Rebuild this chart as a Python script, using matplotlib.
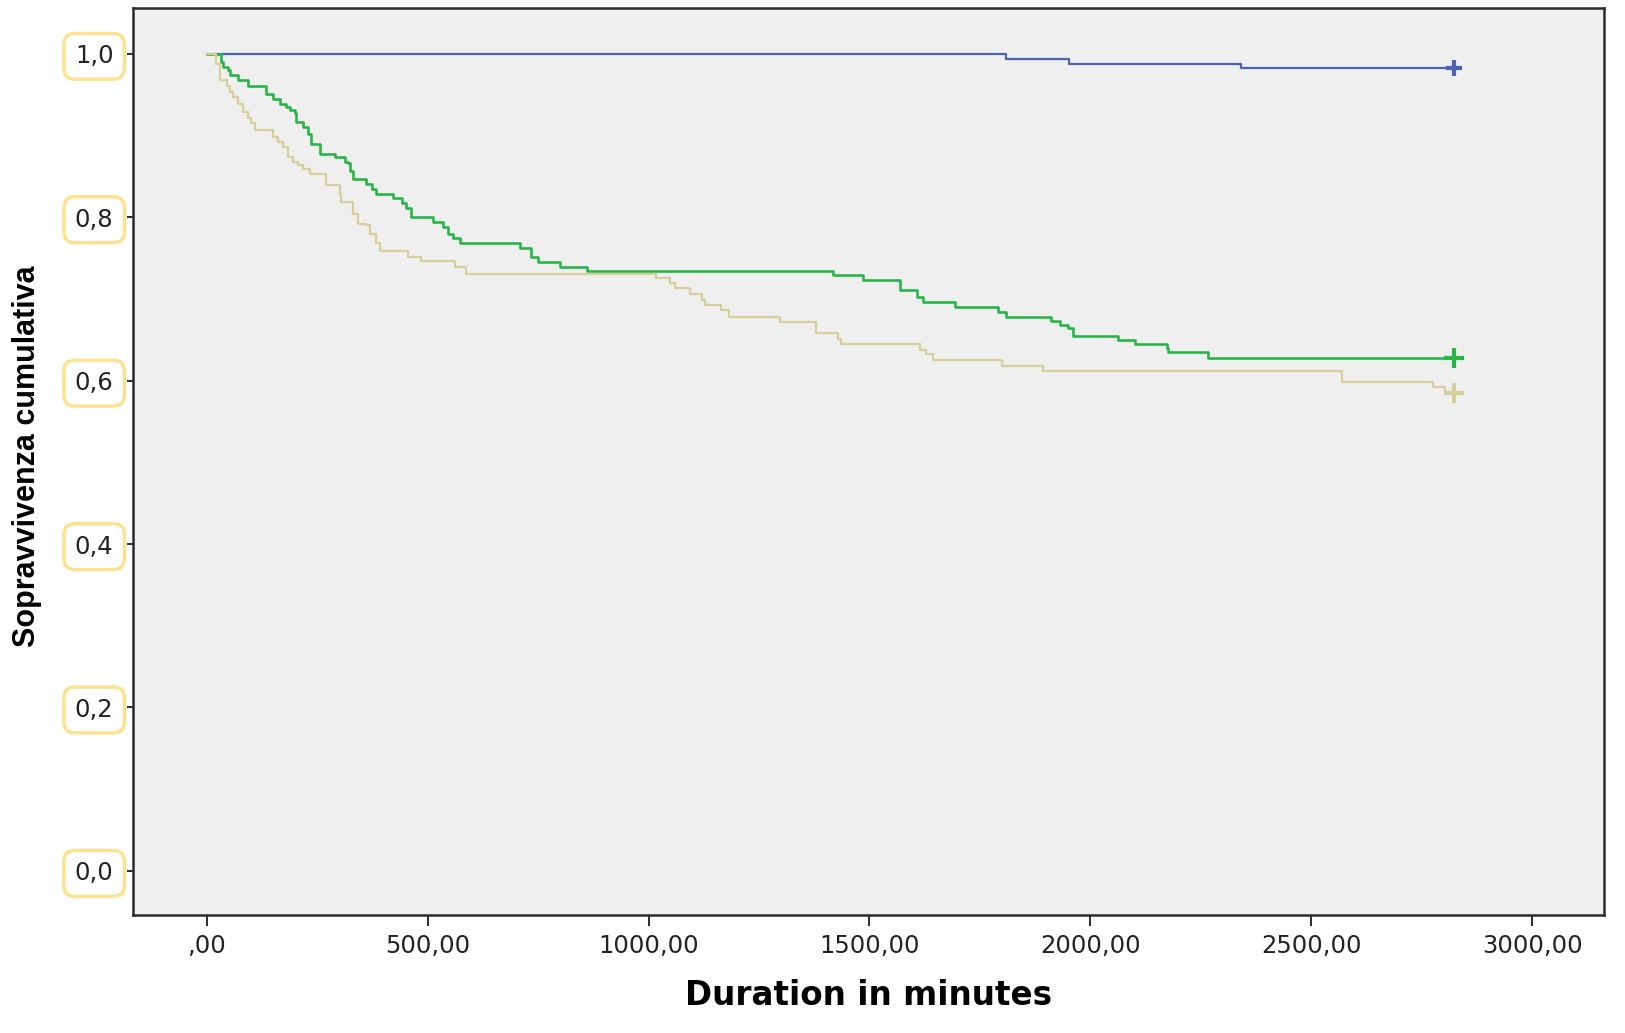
import matplotlib
matplotlib.use('Agg')
import matplotlib.pyplot as plt

# Kaplan-Meier: tempi (minuti) di ogni gradino e sopravvivenza dopo il gradino
blue_t = [0, 1809, 1951, 2341, 2822]
blue_s = [1.0, 0.994, 0.988, 0.983, 0.983]

green_t = [0, 33, 37, 48, 52, 71, 94, 135, 150, 165, 180, 188, 199, 203, 218,
           229, 237, 256, 290, 312, 320, 324, 331, 361, 373, 384, 422, 441,
           452, 463, 512, 535, 546, 558, 573, 709, 735, 750, 799, 860, 1418,
           1486, 1569, 1607, 1622, 1693, 1792, 1810, 1912, 1931, 1950, 1961,
           2063, 2101, 2173, 2176, 2267, 2822]
green_s = [1.0, 0.990, 0.984, 0.980, 0.974, 0.968, 0.961, 0.951, 0.945, 0.939,
           0.935, 0.931, 0.927, 0.917, 0.910, 0.902, 0.890, 0.878, 0.874, 0.868,
           0.866, 0.857, 0.847, 0.841, 0.835, 0.829, 0.823, 0.817, 0.811, 0.800,
           0.794, 0.788, 0.780, 0.774, 0.768, 0.762, 0.751, 0.745, 0.739, 0.734,
           0.729, 0.723, 0.711, 0.702, 0.696, 0.690, 0.684, 0.678, 0.673, 0.668,
           0.664, 0.655, 0.650, 0.645, 0.640, 0.635, 0.628, 0.628]

tan_t = [0, 20, 29, 45, 52, 60, 71, 82, 94, 101, 109, 150, 161, 173, 184, 195,
         207, 218, 233, 269, 301, 305, 331, 343, 361, 369, 384, 392, 456, 486,
         561, 586, 1016, 1048, 1060, 1094, 1120, 1127, 1165, 1182, 1297, 1380,
         1429, 1435, 1614, 1629, 1644, 1799, 1892, 2569, 2776, 2803, 2822]
tan_s = [1.0, 0.988, 0.968, 0.961, 0.953, 0.947, 0.939, 0.929, 0.921, 0.915,
         0.907, 0.898, 0.892, 0.886, 0.874, 0.868, 0.864, 0.859, 0.853, 0.839,
         0.829, 0.819, 0.804, 0.792, 0.790, 0.780, 0.768, 0.759, 0.751, 0.746,
         0.739, 0.731, 0.726, 0.719, 0.713, 0.706, 0.699, 0.692, 0.686, 0.678,
         0.672, 0.658, 0.651, 0.645, 0.638, 0.633, 0.625, 0.618, 0.612, 0.598,
         0.592, 0.585, 0.585]

x_ticks = [0, 500, 1000, 1500, 2000, 2500, 3000]
x_labels = [',00', '500,00', '1000,00', '1500,00', '2000,00', '2500,00', '3000,00']
y_ticks = [0.0, 0.2, 0.4, 0.6, 0.8, 1.0]
y_labels = ['0,0', '0,2', '0,4', '0,6', '0,8', '1,0']

fig = plt.figure(figsize=(16.25, 10.33), dpi=100)
ax = fig.add_axes([0.0818, 0.1142, 0.9054, 0.878])
ax.set_facecolor('#efefef')

series = [
    (blue_t, blue_s, '#4a63b4', 1.6, 11),
    (green_t, green_s, '#2ab548', 1.9, 15),
    (tan_t, tan_s, '#d6cf98', 1.6, 15),
]
for t, s, col, lw, ms in series:
    ax.plot(t, s, drawstyle='steps-post', color=col, lw=lw)
    # censura alla fine del follow-up
    ax.plot(t[-1], s[-1], marker='+', ms=ms, mew=3, color=col, ls='none')

ax.set_xlim(-167, 3163)
ax.set_ylim(-0.054, 1.056)

ax.set_xticks(x_ticks)
ax.set_xticklabels(x_labels)
ax.set_yticks(y_ticks)
ax.set_yticklabels(y_labels)

for sp in ax.spines.values():
    sp.set_color('#2b2b2b')
    sp.set_linewidth(1.8)

ax.tick_params(axis='x', length=8, width=1.4, color='#2b2b2b', pad=6,
               labelsize=17.5, labelcolor='#222222')
ax.tick_params(axis='y', length=4, width=1.4, color='#2b2b2b', pad=10,
               labelsize=17.5, labelcolor='#222222')

for lab in ax.get_yticklabels():
    lab.set_bbox(dict(boxstyle='round,pad=0.45,rounding_size=0.45',
                      fc='white', ec='#ffe08c', lw=2.4))

ax.set_xlabel('Duration in minutes', fontsize=23.5, fontweight='bold',
              family='DejaVu Sans')
ax.xaxis.set_label_coords(0.5, -0.07)
ax.set_ylabel('Sopravvivenza cumulativa', fontsize=22, fontweight='bold',
              family='Liberation Sans')
ax.yaxis.set_label_coords(-0.062, 0.506)

fig.savefig('out.png', dpi=100)
